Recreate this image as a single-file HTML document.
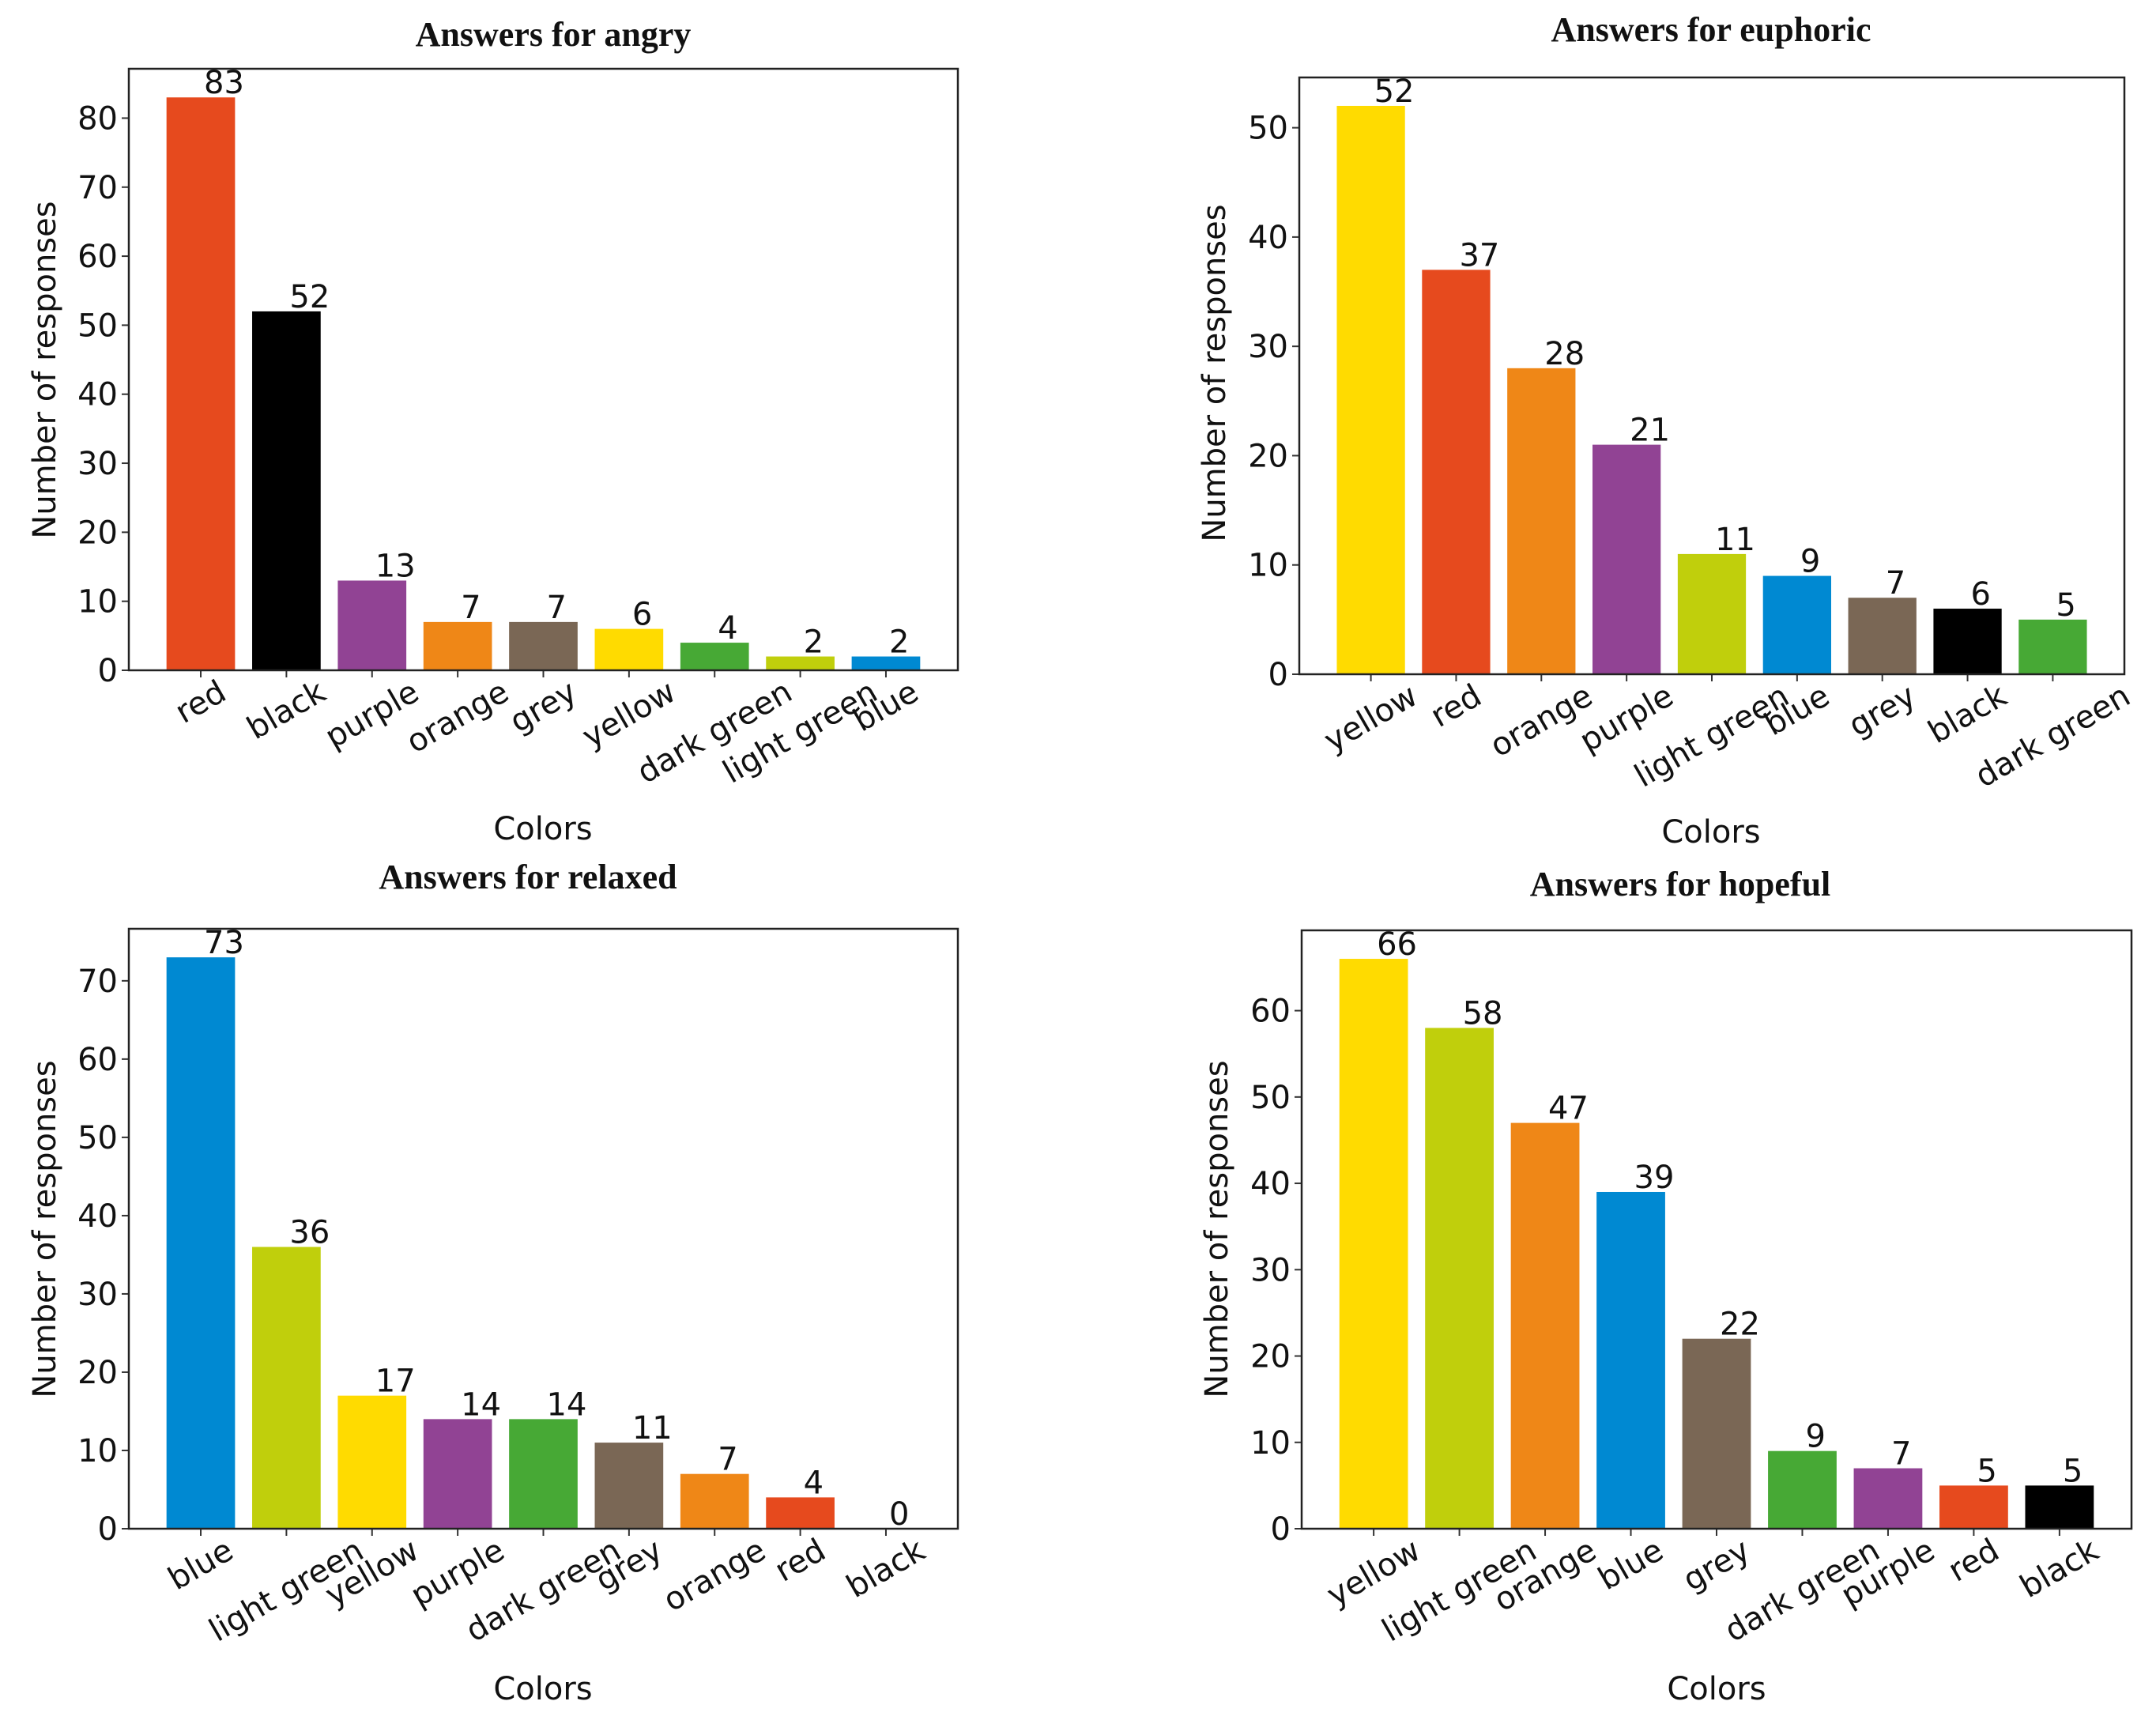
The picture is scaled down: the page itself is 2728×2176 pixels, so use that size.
<!DOCTYPE html>
<html><head><meta charset="utf-8">
<style>
html,body{margin:0;padding:0;background:#fff;}
svg{display:block;}
text{font-family:"DejaVu Sans","Liberation Sans",sans-serif;fill:#111;}
.title{font-family:"Liberation Serif",serif;font-weight:bold;font-size:44px;}
</style></head>
<body>
<svg id="chart" width="2728" height="2176" viewBox="0 0 2728 2176" xmlns="http://www.w3.org/2000/svg"></svg>
<script>
const angryCats=["red","black","purple","orange","grey","yellow","dark green","light green","blue"];
const angryVals=[83,52,13,7,7,6,4,2,2];
const euphoricCats=["yellow","red","orange","purple","light green","blue","grey","black","dark green"];
const euphoricVals=[52,37,28,21,11,9,7,6,5];
const relaxedCats=["blue","light green","yellow","purple","dark green","grey","orange","red","black"];
const relaxedVals=[73,36,17,14,14,11,7,4,0];
const hopefulCats=["yellow","light green","orange","blue","grey","dark green","purple","red","black"];
const hopefulVals=[66,58,47,39,22,9,7,5,5];
const angryTicks=[0,10,20,30,40,50,60,70,80];
const euphoricTicks=[0,10,20,30,40,50];
const relaxedTicks=[0,10,20,30,40,50,60,70];
const hopefulTicks=[0,10,20,30,40,50,60];

const COLORS={"red":"#E64A1E","black":"#000000","purple":"#914394","orange":"#EF8717","grey":"#7A6755","yellow":"#FFDB00","dark green":"#47A935","light green":"#C0CF0C","blue":"#0089D2"};
const NS="http://www.w3.org/2000/svg";
const svg=document.getElementById('chart');
const FS='40px';
function mk(tag,attrs,parent){const e=document.createElementNS(NS,tag);for(const k in attrs)e.setAttribute(k,attrs[k]);(parent||svg).appendChild(e);return e;}

function panel(key,title,cats,vals,ticks,box,titlePos,xlabPos,ylabPos){
  const g=mk('g',{});
  
  
  const n=cats.length;
  const ymax=Math.max(...vals)*1.05;
  const xmin=-0.4-0.44*(n-1+0.8)/8.8, xmax=(n-1)+0.4+0.44*(n-1+0.8)/8.8;
  const X=v=>box.x0+(v-xmin)/(xmax-xmin)*(box.x1-box.x0);
  const Y=v=>box.y1-v/ymax*(box.y1-box.y0);
  const bw=X(0.8)-X(0);
  const t=mk('text',{x:titlePos[0],y:titlePos[1],'text-anchor':'middle',class:'title'},g);
  t.textContent=title;
  
  
  for(let i=0;i<n;i++){
    const top=Y(vals[i]);
    const r=mk('rect',{x:X(i)-bw/2,y:top,width:bw,height:Y(0)-top,fill:COLORS[cats[i]]},g);
    
    
    const vl=mk('text',{x:X(i)+4,y:top-5,'font-size':FS},g);
    vl.textContent=vals[i];
    
    
    mk('line',{x1:X(i),x2:X(i),y1:box.y1,y2:box.y1+9,stroke:'#333','stroke-width':2},g);
    const tl=mk('text',{'font-size':FS,'text-anchor':'middle'},g);
    tl.textContent=cats[i];
    
    
    const w=tl.getComputedTextLength();
    const ay=box.y1+12+w/2*0.5+12;
    tl.setAttribute('transform','translate('+X(i)+','+ay+') rotate(-30)');
    tl.setAttribute('dy','13');
  }
  for(const tv of ticks){
    mk('line',{x1:box.x0-9,x2:box.x0,y1:Y(tv),y2:Y(tv),stroke:'#333','stroke-width':2},g);
    const tt=mk('text',{x:box.x0-14,y:Y(tv)+14,'text-anchor':'end','font-size':FS},g);
    tt.textContent=tv;
    
    
  }
  const fr=mk('rect',{x:box.x0,y:box.y0,width:box.x1-box.x0,height:box.y1-box.y0,fill:'none',stroke:'#222','stroke-width':2.5},g);
  
  
  const xl=mk('text',{x:xlabPos[0],y:xlabPos[1],'text-anchor':'middle','font-size':'40px'},g);
  xl.textContent='Colors';
  
  
  const yl=mk('text',{'text-anchor':'middle','font-size':'40px',transform:'translate('+ylabPos[0]+','+ylabPos[1]+') rotate(-90)'},g);
  yl.textContent='Number of responses';
  
  
}
panel('angry','Answers for angry',angryCats,angryVals,angryTicks,{x0:163,x1:1212,y0:87,y1:848},[700,58],[687,1062],[70,468]);
panel('euphoric','Answers for euphoric',euphoricCats,euphoricVals,euphoricTicks,{x0:1644,x1:2688,y0:98,y1:853},[2165,52],[2165,1066],[1550,472]);
panel('relaxed','Answers for relaxed',relaxedCats,relaxedVals,relaxedTicks,{x0:163,x1:1212,y0:1175,y1:1934},[668,1124],[687,2150],[70,1555]);
panel('hopeful','Answers for hopeful',hopefulCats,hopefulVals,hopefulTicks,{x0:1647,x1:2697,y0:1177,y1:1934},[2126,1133],[2172,2150],[1553,1555]);
</script>
</body></html>
